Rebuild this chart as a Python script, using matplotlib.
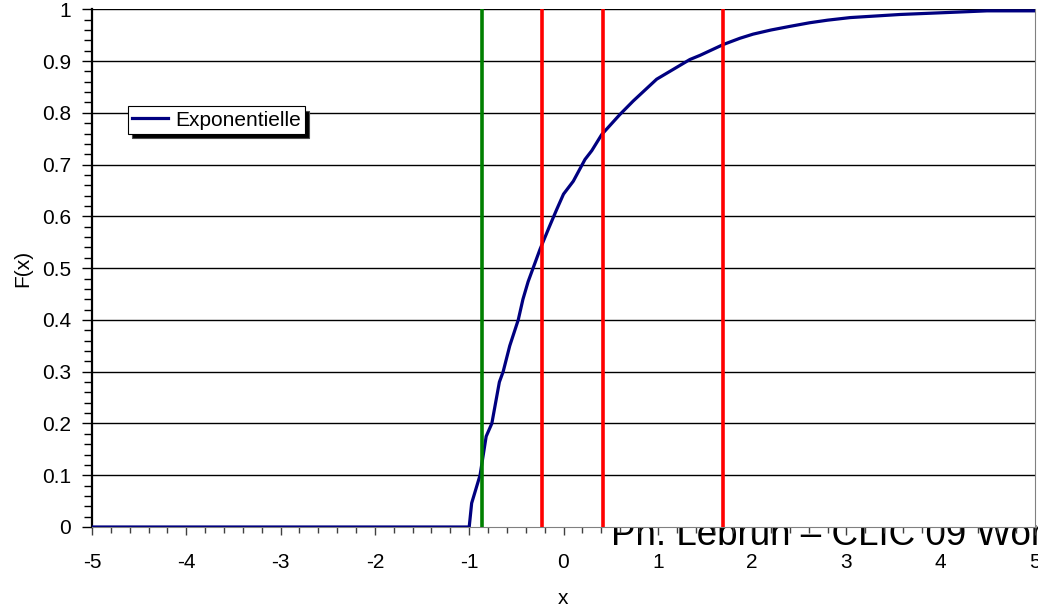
import matplotlib
matplotlib.use("Agg")
import matplotlib.pyplot as plt
from matplotlib.ticker import MultipleLocator, FuncFormatter

plt.rcParams['font.family'] = ['Liberation Sans', 'DejaVu Sans']

cdf_x = [-5.0, -1.0, -0.974, -0.885, -0.82, -0.76, -0.68, -0.64, -0.57, -0.48,
         -0.43, -0.375, -0.25, -0.15, -0.073, 0.0, 0.104, 0.228, 0.30, 0.405,
         0.564, 0.599, 0.74, 0.988, 1.34, 1.447, 1.695, 1.87, 2.01, 2.2,
         2.40, 2.61, 2.8, 3.04, 3.57, 4.10, 4.49, 5.0]
cdf_y = [0.0, 0.0, 0.046, 0.10, 0.175, 0.20, 0.28, 0.30, 0.35, 0.40,
         0.44, 0.474, 0.536, 0.58, 0.613, 0.643, 0.668, 0.71, 0.727, 0.758,
         0.790, 0.797, 0.823, 0.865, 0.903, 0.911, 0.932, 0.944, 0.952, 0.960,
         0.967, 0.974, 0.979, 0.984, 0.99, 0.994, 0.997, 0.997]
green_x = [-0.864]
red_x = [-0.228, 0.419, 1.69]

fig = plt.figure(figsize=(10.38, 6.06), dpi=100)
ax = fig.add_axes([92/1038, 1-527/606, (1035-92)/1038, (527-9.3)/606])

# footer text sitting behind the plot area
fig.text(611/1038, 1-545/606, "Ph. Lebrun \u2013 CLIC 09 Workshop", fontsize=26.5,
         ha='left', va='baseline', zorder=-5)

ax.set_xlim(-5, 5)
ax.set_ylim(0, 1)

for v in [0.1*i for i in range(1, 11)]:
    ax.axhline(v, color='black', lw=1.0, zorder=1)

ax.plot(cdf_x, cdf_y, color='#000080', lw=2.3, label='Exponentielle', zorder=3,
        solid_joinstyle='round')
for v in green_x:
    ax.axvline(v, color='#008000', lw=2.6, zorder=4)
for v in red_x:
    ax.axvline(v, color='#ff0000', lw=2.6, zorder=4)

ax.xaxis.set_major_locator(MultipleLocator(1))
ax.xaxis.set_minor_locator(MultipleLocator(0.2))
ax.yaxis.set_major_locator(MultipleLocator(0.1))
ax.yaxis.set_minor_locator(MultipleLocator(0.02))
ax.yaxis.set_major_formatter(FuncFormatter(lambda v, p: ('%g' % round(v, 2))))
ax.xaxis.set_major_formatter(FuncFormatter(lambda v, p: ('%g' % round(v, 2))))

ax.tick_params(axis='x', which='major', direction='out', length=6, width=1,
               labelsize=15, pad=13)
ax.tick_params(axis='x', which='minor', direction='out', length=4, width=1)
ax.tick_params(axis='y', which='major', direction='out', length=7, width=1,
               labelsize=15, pad=8)
ax.tick_params(axis='y', which='minor', direction='out', length=6, width=1)

ax.spines['left'].set_color('black')
ax.spines['left'].set_linewidth(1.6)
ax.spines['bottom'].set_color('#808080')
ax.spines['right'].set_color('#808080')
ax.spines['top'].set_visible(False)
ax.tick_params(axis='x', which='both', color='#404040')

ax.set_xlabel('x', fontsize=15)
ax.set_ylabel('F(x)', fontsize=15)
ax.xaxis.set_label_coords(0.5, (527-589)/517)
ax.yaxis.set_label_coords((32-92)/943, 0.5)

leg = ax.legend(loc='upper left', bbox_to_anchor=((128-92)/943, (527-107)/517),
                borderaxespad=0, fancybox=False, framealpha=1, fontsize=15,
                handlelength=1.7, handletextpad=0.35, borderpad=0.2,
                shadow={'ox': 3, 'oy': -3, 'facecolor': 'black', 'alpha': 1})
leg.get_frame().set_edgecolor('black')
leg.get_frame().set_linewidth(0.8)

fig.savefig('out.png', dpi=100)
